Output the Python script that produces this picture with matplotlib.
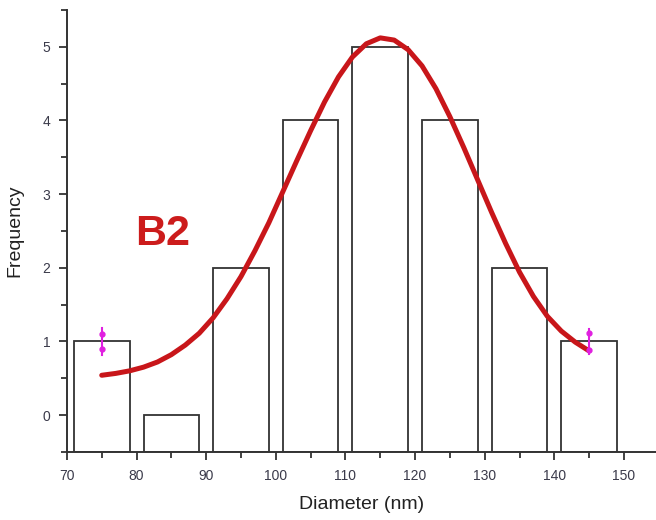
"""
Diameter histogram (sample B2) with Gaussian fit curve.
"""

import matplotlib
matplotlib.use("Agg")
import matplotlib.pyplot as plt
from matplotlib.ticker import MultipleLocator

# Histogram bins (centres, nm) and counts
bin_centres = [75, 85, 95, 105, 115, 125, 135, 145]
counts = [1, 0, 2, 4, 5, 4, 2, 1]

# Gaussian fit curve, every 2 nm
fit_x = [75, 77, 79, 81, 83, 85, 87, 89, 91, 93, 95, 97, 99, 101, 103, 105,
         107, 109, 111, 113, 115, 117, 119, 121, 123, 125, 127, 129, 131,
         133, 135, 137, 139, 141, 143, 145]
fit_y = [0.54, 0.565, 0.60, 0.65, 0.72, 0.82, 0.95, 1.11, 1.32, 1.58, 1.88,
         2.23, 2.61, 3.03, 3.45, 3.86, 4.25, 4.59, 4.86, 5.04, 5.12, 5.09,
         4.96, 4.74, 4.43, 4.05, 3.63, 3.19, 2.75, 2.33, 1.94, 1.61, 1.34,
         1.14, 0.99, 0.87]

# Magenta error markers at the end bins
err_x = [75, 145]
err_y = [1.0, 1.0]
err_half = [0.18, 0.17]
err_dots = [[0.90, 1.10], [0.88, 1.11]]

plt.rcParams["font.family"] = ["Liberation Sans", "DejaVu Sans"]

fig = plt.figure(figsize=(6.56, 5.2), dpi=100)
ax = fig.add_axes([0.102, 0.131, 0.898, 0.850])

ink = "#333333"
ax.bar(bin_centres, [c + 0.5 for c in counts], bottom=-0.5, width=8,
       facecolor="white", edgecolor=ink, linewidth=1.3, zorder=2)

ax.plot(fit_x, fit_y, color="#c8161a", linewidth=3.6,
        solid_capstyle="round", solid_joinstyle="round", zorder=3)

for x, y, h, dots in zip(err_x, err_y, err_half, err_dots):
    ax.plot([x, x], [y - h, y + h], color="#e020e0", linewidth=1.5, zorder=4)
    ax.plot([x, x], dots, linestyle="none", marker="o", markersize=3.5,
            color="#e020e0", zorder=4)

ax.text(83.8, 2.46, "B2", color="#cc1c1c", fontsize=31, fontweight="bold",
        ha="center", va="center")

ax.set_xlim(70, 154.6)
ax.set_ylim(-0.5, 5.5)
ax.xaxis.set_major_locator(MultipleLocator(10))
ax.xaxis.set_minor_locator(MultipleLocator(5))
ax.yaxis.set_major_locator(MultipleLocator(1))
ax.yaxis.set_minor_locator(MultipleLocator(0.5))

for side in ("top", "right"):
    ax.spines[side].set_visible(False)
for side in ("left", "bottom"):
    ax.spines[side].set_color(ink)
    ax.spines[side].set_linewidth(1.4)

ax.tick_params(which="major", direction="out", length=6, width=1.3,
               color=ink, labelcolor="#3a3a4a", labelsize=10, pad=6)
ax.tick_params(which="minor", direction="out", length=4, width=1.3, color=ink)

ax.set_xlabel("Diameter (nm)", fontsize=14, color="#222222", labelpad=10)
ax.set_ylabel("Frequency", fontsize=14, color="#222222", labelpad=14)

fig.savefig("out.png", dpi=100)
